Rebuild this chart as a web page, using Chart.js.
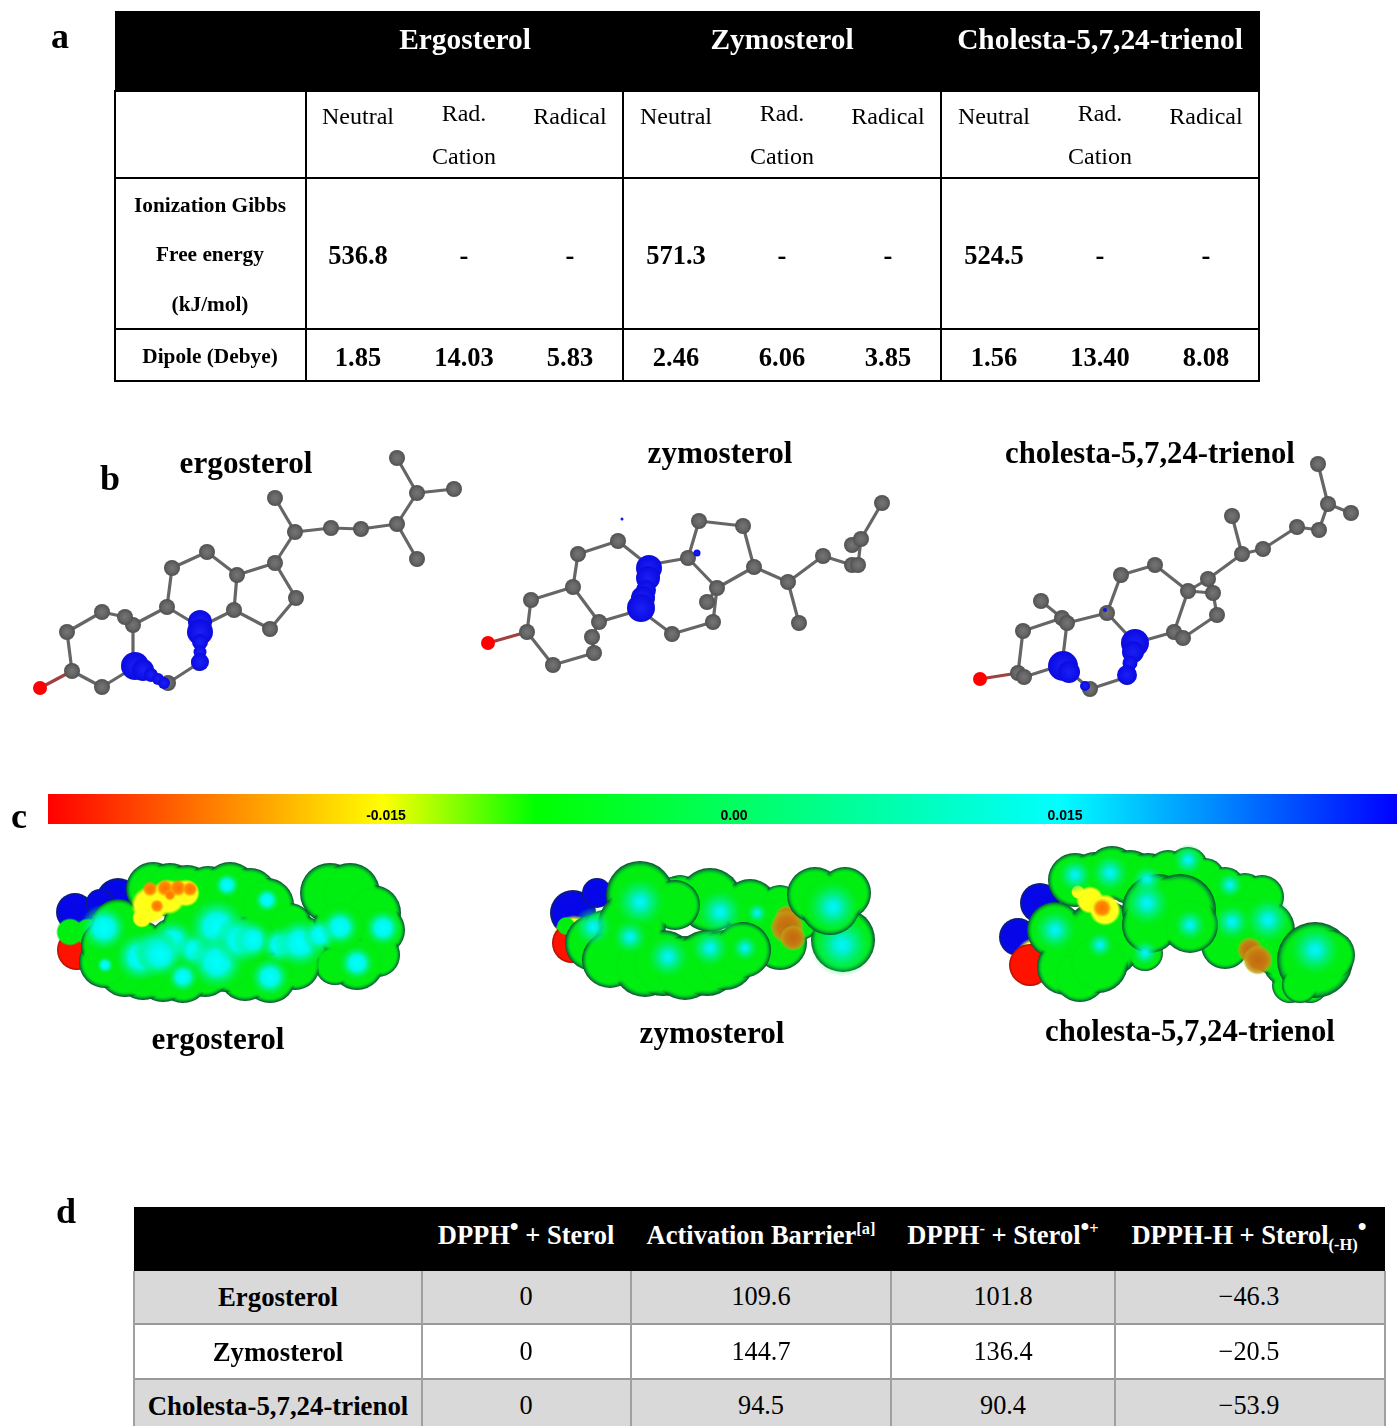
<!DOCTYPE html>
<html><head><meta charset="utf-8">
<script src="https://cdn.jsdelivr.net/npm/chart.js@4"></script>
<style>
html,body{margin:0;padding:0;background:#fff;overflow:hidden}
#page{position:relative;width:1397px;height:1426px;font-family:"Liberation Serif",serif;color:#000}
canvas{position:absolute;left:0;top:0}
.t{position:absolute;white-space:nowrap;transform:translate(-50%,-50%);line-height:1}
.b{font-weight:700}
.r{position:absolute}
sup,sub{font-size:62%;line-height:0}
sup.d{font-size:95%;position:relative;top:1px}
</style></head><body>
<div id="page"><canvas id="c" width="1397" height="1426"></canvas></div>
<script>
// ---------- table a ----------
const sterolNames = ['Ergosterol','Zymosterol','Cholesta-5,7,24-trienol'];
const ionizationValues = ['536.8','-','-','571.3','-','-','524.5','-','-'];
const dipoleValues = ['1.85','14.03','5.83','2.46','6.06','3.85','1.56','13.40','8.08'];
// ---------- table d ----------
const energyHeaders = ['DPPH<sup class="d">•</sup> + Sterol','Activation Barrier<sup>[a]</sup>','DPPH<sup>-</sup> + Sterol<sup class="d">•</sup><sup>+</sup>','DPPH-H + Sterol<sub>(-H)</sub><sup class="d">•</sup>'];
const energyErgosterol = ['0','109.6','101.8','−46.3'];
const energyZymosterol = ['0','144.7','136.4','−20.5'];
const energyCholesta = ['0','94.5','90.4','−53.9'];
// ---------- colour bar ----------
const colourBarEnds = [48,1397];
const colourBarStops = [[48,'#ff0000'],[383,'#ffff00'],[535,'#00ff00'],[1060,'#00ffff'],[1397,'#0000ff']];
const colourBarTicks = ['-0.015','0.00','0.015'];
// ---------- panel b : atoms [x,y] ----------
const ergoAtoms = [[397,458],[417,493],[454,489],[397,524],[417,559],[361,529],[331,528],[295,532],[275,498],[275,563],[296,598],[270,629],[234,610],[237,575],[207,552],[172,568],[167,607],[200,627],[199,663],[168,683],[133,668],[133,625],[125,617],[102,612],[67,632],[72,671],[102,687]];
const ergoBonds = [[0,1],[1,2],[1,3],[3,4],[3,5],[5,6],[6,7],[7,8],[7,9],[9,10],[10,11],[11,12],[12,13],[13,9],[13,14],[14,15],[15,16],[16,17],[17,12],[17,18],[18,19],[19,20],[20,21],[21,16],[21,22],[22,23],[23,24],[24,25],[25,26],[26,20]];
const ergoOxygen = [[40,688]];
const ergoOxygenBond = [[40,688],[72,671]];
const ergoLobes = [[200,622,12],[200,632,13],[200,642,8],[200,652,6.5],[200,662,9],[135,666,14],[143,670,11],[151,675,7],[158,679,6],[164,683,6]];
const zymoAtoms = [[527,632],[531,600],[573,587],[578,554],[618,541],[648,565],[640,610],[599,622],[592,637],[594,653],[553,665],[672,634],[713,622],[717,588],[707,602],[688,558],[699,521],[743,526],[754,567],[788,582],[799,623],[823,556],[852,565],[858,565],[852,545],[861,539],[882,503]];
const zymoBonds = [[0,1],[1,2],[2,3],[3,4],[4,5],[5,6],[6,7],[7,2],[7,8],[8,9],[9,10],[10,0],[6,11],[11,12],[12,13],[13,14],[13,15],[5,15],[15,16],[16,17],[17,18],[18,13],[18,19],[19,20],[19,21],[21,22],[22,23],[23,25],[24,25],[25,26]];
const zymoOxygen = [[488,643]];
const zymoOxygenBond = [[488,643],[527,632]];
const zymoLobes = [[649,568,13],[648,578,12],[646,590,10],[643,598,12],[641,608,14],[622,519,1.5],[697,553,3.5]];
const cholAtoms = [[1018,673],[1024,677],[1023,631],[1062,618],[1067,623],[1041,601],[1107,613],[1121,575],[1155,565],[1188,591],[1208,579],[1213,593],[1217,615],[1174,632],[1183,638],[1135,643],[1127,677],[1090,689],[1062,665],[1242,554],[1232,516],[1263,549],[1297,527],[1319,530],[1328,504],[1318,464],[1351,513]];
const cholBonds = [[0,1],[0,2],[2,3],[3,4],[3,5],[4,6],[6,7],[7,8],[8,9],[9,10],[10,11],[11,12],[12,14],[14,13],[13,9],[13,15],[15,6],[15,16],[16,17],[17,18],[18,1],[18,4],[9,11],[10,19],[19,20],[19,21],[21,22],[22,23],[23,24],[24,25],[24,26]];
const cholOxygen = [[980,679]];
const cholOxygenBond = [[980,679],[1018,673]];
const cholLobes = [[1135,643,14],[1133,652,11],[1130,663,7.5],[1127,675,10],[1063,666,15],[1069,672,11],[1085,686,5],[1105,610,2]];
// ---------- panel c : surface spheres [x,y,r] ----------
const ergoSurfBlue = [[75,912,19],[118,900,22],[100,903,14]];
const ergoSurfYellow = [[80,945,20]];
const ergoSurfRed = [[77,950,20]];
const ergoSurfBand = [[70,932,15],[88,932,15]];
const ergoSurfBase = [[118,925,26],[153,889,27],[170,890,27],[187,892,27],[208,892,26],[230,890,28],[250,895,27],[267,905,27],[290,925,22],[330,893,30],[350,893,30],[373,913,28],[380,930,25],[378,955,22],[357,963,27],[335,965,20],[300,943,28],[340,927,27],[295,965,25],[270,977,26],[245,975,26],[225,965,27],[205,970,27],[183,977,26],[163,975,27],[143,973,27],[125,970,27],[105,962,26],[105,945,24],[140,945,25],[173,942,24],[217,927,30],[253,940,25],[185,925,22]];
const ergoSurfHotRim = [[150,905,19],[168,897,18],[186,893,14],[142,918,10]];
const ergoSurfHotCore = [[150,889,8],[165,888,9],[178,888,9],[190,889,8],[157,906,7],[170,895,6]];
const ergoSurfGlow = [[104,928,24],[140,957,26],[173,942,24],[155,950,22],[160,955,24],[195,950,20],[217,927,30],[217,962,28],[240,940,26],[253,940,20],[280,945,20],[300,943,26],[320,935,18],[340,927,20],[383,928,19],[357,963,18],[270,977,20],[183,977,16],[227,885,13],[267,900,13],[105,965,9]];
const zymoSurfBlue = [[573,913,23],[597,893,15]];
const zymoSurfYellow = [[574,936,21]];
const zymoSurfRed = [[572,943,20]];
const zymoSurfBand = [[566,926,10]];
const zymoSurfBack = [[593,943,28],[605,935,25],[680,895,20],[710,900,32],[750,907,28],[673,893,16],[780,905,20],[770,925,26],[780,943,27],[800,920,20],[843,940,32]];
const zymoSurfHot = [[787,917,12],[787,927,17],[793,938,13]];
const zymoSurfMid = [[640,895,34],[675,905,25],[632,925,34],[627,950,35],[610,960,28],[645,965,32],[663,963,33],[685,968,32],[707,963,33],[725,960,30],[743,950,28]];
const zymoSurfTop = [[815,895,28],[845,893,26],[830,905,30]];
const zymoSurfGlow = [[640,902,26],[593,927,20],[630,937,18],[668,957,22],[710,948,20],[745,948,14],[720,912,24],[757,913,11],[842,945,32]];
const zymoSurfTopGlow = [[833,907,28]];
const cholSurfBlue = [[1018,937,19],[1040,903,20]];
const cholSurfYellow = [[1036,958,21]];
const cholSurfRed = [[1030,965,21]];
const cholSurfBack = [[1075,880,27],[1095,878,26],[1112,873,27],[1130,877,27],[1148,880,27],[1168,872,22],[1188,867,20],[1205,878,20],[1225,887,20],[1245,893,20],[1262,897,22],[1145,953,18],[1055,930,28],[1085,950,38],[1065,967,28],[1080,975,27],[1102,940,40],[1098,963,30],[1290,985,18],[1310,985,18],[1228,923,30],[1245,925,30],[1265,930,30],[1290,960,28],[1275,950,25],[1225,945,24]];
const cholSurfHotRim = [[1090,900,14],[1105,910,16],[1078,892,7]];
const cholSurfHotCore = [[1102,908,10]];
const cholSurfBrown = [[1250,950,13],[1258,960,15]];
const cholSurfFront = [[1158,910,36],[1180,910,36],[1150,925,28],[1190,925,28]];
const cholSurfEnd = [[1315,960,38],[1330,955,25],[1300,985,18]];
const cholSurfGlow = [[1055,930,22],[1110,873,20],[1188,860,16],[1075,875,18],[1147,880,16],[1230,885,14],[1147,903,24],[1190,925,17],[1232,922,19],[1268,920,24],[1100,945,14],[1145,953,14]];
const cholSurfEndGlow = [[1315,950,27]];

const xy = p => ({x:p[0],y:p[1]});
const xyr = p => ({x:p[0],y:p[1],r:p[2]});
const bondPath = (atoms,bonds) => bonds.flatMap(b => [xy(atoms[b[0]]),xy(atoms[b[1]]),{x:NaN,y:NaN}]);

const ramps = {
  base:[[0,'#00ec14'],[.8,'#00e41c'],[.93,'#069a30'],[1,'#0a4f2a']],
  inner:[[0,'#00ee10'],[.8,'#00ee10'],[.93,'rgba(0,230,20,0)']],
  glow:[[0,'#00ffff'],[.42,'#00f8e8'],[1,'rgba(0,240,60,0)']],
  glowSoft:[[0,'#00f8f8'],[.22,'#00f0d8'],[.6,'rgba(0,240,140,.55)'],[1,'rgba(0,240,40,0)']],
  yellow:[[0,'#ffff10'],[.8,'#ffff20'],[1,'rgba(200,255,0,0)']],
  brown:[[0,'#c06a10'],[.55,'#c87810'],[.85,'rgba(200,150,20,.8)'],[1,'rgba(120,230,20,0)']],
  core:[[0,'#ff7000'],[.6,'#ff8a00'],[1,'rgba(255,170,0,0)']],
  blue:[[0,'#0606e8'],[.85,'#0608e8'],[.96,'#0a1a90'],[1,'#10205a']],
  red:[[0,'#ff1200'],[.88,'#ff1200'],[1,'#a01000']],
  lobe:[[0,'#1a20f4'],[.9,'#0c0ce6'],[1,'#1010d0']],
  atom:[[0,'#757575'],[.55,'#666666'],[1,'#505050']]
};
function radial(ctx,kind){
  const c = ctx.chart, raw = ctx.raw;
  if(!raw || !c.scales.x) return '#666';
  const px = c.scales.x.getPixelForValue(raw.x), py = c.scales.y.getPixelForValue(raw.y);
  const r = raw.r || 8;
  if(!isFinite(px) || !isFinite(py)) return '#666';
  const g = c.ctx.createRadialGradient(px,py,0,px,py,r);
  ramps[kind].forEach(s => g.addColorStop(s[0],s[1]));
  return g;
}
const spheres = (kind,arr) => ({type:'bubble',data:arr.map(xyr),borderWidth:0,backgroundColor:ctx=>radial(ctx,kind),hoverBorderWidth:0});
const bond = (path,color) => ({type:'scatter',showLine:true,spanGaps:false,data:path,borderColor:color,borderWidth:3.2,pointRadius:0,pointHoverRadius:0});
const atoms = (arr) => ({type:'bubble',data:arr.map(p=>({x:p[0],y:p[1],r:8})),borderWidth:0,backgroundColor:ctx=>radial(ctx,'atom')});
const oxygen = (arr) => ({type:'bubble',data:arr.map(p=>({x:p[0],y:p[1],r:7})),borderWidth:0,backgroundColor:'#ff0000'});

const layers = [
  // colour bar
  {type:'scatter',showLine:true,data:colourBarEnds.map(x=>({x,y:809})),borderWidth:30,borderCapStyle:'butt',pointRadius:0,
   borderColor:ctx=>{const c=ctx.chart,s=c.scales.x;if(!s||!isFinite(s.getPixelForValue(48)))return'#000';const g=c.ctx.createLinearGradient(s.getPixelForValue(48),0,s.getPixelForValue(1397),0);
     colourBarStops.forEach(v=>g.addColorStop((v[0]-48)/(1397-48),v[1]));return g;}},
  // panel b
  bond(bondPath(ergoAtoms,ergoBonds),'#666'),bond(ergoOxygenBond.map(xy),'#a04040'),atoms(ergoAtoms),oxygen(ergoOxygen),spheres('lobe',ergoLobes),
  bond(bondPath(zymoAtoms,zymoBonds),'#666'),bond(zymoOxygenBond.map(xy),'#a04040'),atoms(zymoAtoms),oxygen(zymoOxygen),spheres('lobe',zymoLobes),
  bond(bondPath(cholAtoms,cholBonds),'#666'),bond(cholOxygenBond.map(xy),'#a04040'),atoms(cholAtoms),oxygen(cholOxygen),spheres('lobe',cholLobes),
  // panel c : ergosterol
  spheres('blue',ergoSurfBlue),spheres('yellow',ergoSurfYellow),spheres('red',ergoSurfRed),spheres('inner',ergoSurfBand),
  spheres('base',ergoSurfBase),spheres('inner',ergoSurfBase),
  spheres('yellow',ergoSurfHotRim),spheres('core',ergoSurfHotCore),spheres('glow',ergoSurfGlow),
  // panel c : zymosterol
  spheres('blue',zymoSurfBlue),spheres('yellow',zymoSurfYellow),spheres('red',zymoSurfRed),spheres('inner',zymoSurfBand),
  spheres('base',zymoSurfBack),spheres('inner',zymoSurfBack),spheres('brown',zymoSurfHot),
  spheres('base',zymoSurfMid),spheres('inner',zymoSurfMid),spheres('glowSoft',zymoSurfGlow),
  spheres('base',zymoSurfTop),spheres('inner',zymoSurfTop),spheres('glowSoft',zymoSurfTopGlow),
  // panel c : cholesta-5,7,24-trienol
  spheres('blue',cholSurfBlue),spheres('yellow',cholSurfYellow),spheres('red',cholSurfRed),
  spheres('base',cholSurfBack),spheres('inner',cholSurfBack),spheres('yellow',cholSurfHotRim),spheres('core',cholSurfHotCore),spheres('brown',cholSurfBrown),
  spheres('base',cholSurfFront),spheres('inner',cholSurfFront),spheres('glowSoft',cholSurfGlow),
  spheres('base',cholSurfEnd),spheres('inner',cholSurfEnd),spheres('glowSoft',cholSurfEndGlow)
];
new Chart(document.getElementById('c'),{
  type:'scatter',
  data:{datasets:layers.slice().reverse()},
  options:{responsive:false,animation:false,events:[],devicePixelRatio:1,
    layout:{padding:0,autoPadding:false},
    plugins:{legend:{display:false},tooltip:{enabled:false}},
    scales:{x:{type:'linear',display:false,min:0,max:1397},y:{type:'linear',display:false,min:0,max:1426,reverse:true}}}
});

// ---------- DOM text and table rules ----------
const page = document.getElementById('page');
function T(html,x,y,size,bold,color,extra){const d=document.createElement('div');d.className='t'+(bold?' b':'');d.innerHTML=html;d.style.cssText=`left:${x}px;top:${y}px;font-size:${size}px;`+(color?`color:${color};`:'')+(extra||'');page.appendChild(d);}
function R(x,y,w,h,c){const d=document.createElement('div');d.className='r';d.style.cssText=`left:${x}px;top:${y}px;width:${w}px;height:${h}px;background:${c}`;page.appendChild(d);}
// panel letters
T('a',60,36,36,1);T('b',110,478,36,1);T('c',19,816,36,1);T('d',66,1211,36,1);
// table a
R(115,11,1145,80,'#000');
[90,177,328,380].forEach(y=>R(115,y,1145,2,'#000'));
[114,305,622,940,1258].forEach(x=>R(x,90,2,292,'#000'));
T('Ergosterol',465,39.5,29.4,1,'#fff');T('Zymosterol',782,39.5,29.4,1,'#fff');T('Cholesta-5,7,24-trienol',1100,39.5,29.4,1,'#fff');
const colsA=[358,464,570,676,782,888,994,1100,1206];
colsA.forEach((x,i)=>{
  if(i%3==0)T('Neutral',x,116,24);
  if(i%3==1){T('Rad.',x,113,24);T('Cation',x,156,24);}
  if(i%3==2)T('Radical',x,116,24);
  T(ionizationValues[i],x,255,26.5,1);
  T(dipoleValues[i],x,357,26.5,1);
});
T('Ionization Gibbs',210,206,21.3,1);T('Free energy',210,255,21.3,1);T('(kJ/mol)',210,305,21.3,1);T('Dipole (Debye)',210,357,21.3,1);
// panel b titles
T('ergosterol',246,463,31.2,1);T('zymosterol',720,453,31.2,1);T('cholesta-5,7,24-trienol',1150,453,30.7,1);
// colour-bar ticks
const tickX=[386,734,1065];
colourBarTicks.forEach((t,i)=>T(t,tickX[i],815,14,1,'#000','font-family:"Liberation Sans Narrow","Liberation Sans",sans-serif;'));
// panel c titles
T('ergosterol',218,1039,31.2,1);T('zymosterol',712,1033,31.2,1);T('cholesta-5,7,24-trienol',1190,1031,30.7,1);
// table d
R(134,1207,1251,64,'#000');
R(134,1271,1251,53,'#d9d9d9');R(134,1380,1251,46,'#d9d9d9');
[1323,1378].forEach(y=>R(134,y,1251,2,'#999'));
[133,421,630,890,1114,1384].forEach(x=>R(x,1271,1.5,155,'#a0a0a0'));
const colsD=[526,761,1003,1249];
energyHeaders.forEach((h,i)=>T(h,colsD[i],1235,26.5,1,'#fff'));
[energyErgosterol,energyZymosterol,energyCholesta].forEach((row,j)=>{
  const y=[1297,1352,1406][j];
  T(sterolNames[j],278,y,26.8,1);
  row.forEach((v,i)=>T(v,colsD[i],y,26.3));
});
</script>
</body></html>
